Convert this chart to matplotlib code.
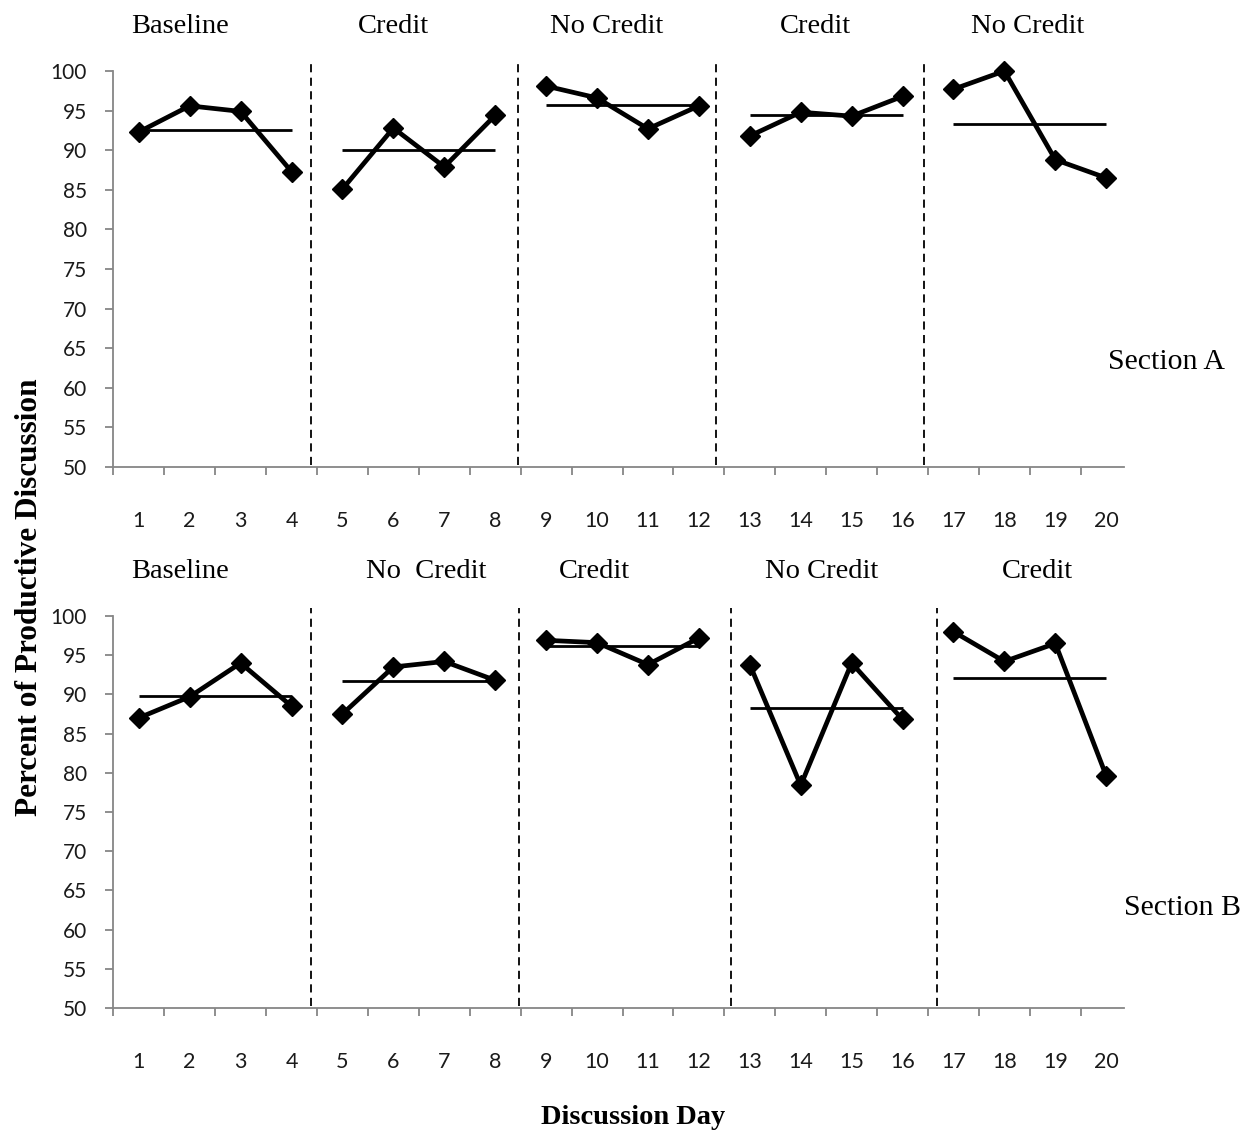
import matplotlib
matplotlib.use("Agg")
import matplotlib.pyplot as plt
import numpy as np

# ---- data ----
days = list(range(1, 21))
section_a = [92.3, 95.6, 94.9, 87.3,
             85.1, 92.8, 87.9, 94.4,
             98.1, 96.6, 92.7, 95.6,
             91.8, 94.8, 94.3, 96.8,
             97.7, 100.0, 88.8, 86.5]
section_b = [87.0, 89.7, 94.0, 88.5,
             87.5, 93.5, 94.2, 91.8,
             96.9, 96.6, 93.8, 97.2,
             93.8, 78.4, 94.0, 86.8,
             98.0, 94.2, 96.5, 79.6]
phases_a = ["Baseline", "Credit", "No Credit", "Credit", "No Credit"]
phases_b = ["Baseline", "No  Credit", "Credit", "No Credit", "Credit"]
section_names = ["Section A", "Section B"]
y_ticks = list(range(50, 101, 5))

# ---- layout (positions / styles) ----
W, H = 1252, 1135
fig = plt.figure(figsize=(W / 100, H / 100), dpi=100)
left_px, right_px = 113.3, 1131.7
panels = [
    dict(top=71, bottom=467, vals=section_a, phases=phases_a,
         dash_x=[4.38, 8.45, 12.33, 16.42],
         phase_x=[1.81, 6.01, 10.19, 14.28, 18.46],
         sec_xy=(1167, 362), name=section_names[0]),
    dict(top=616, bottom=1008, vals=section_b, phases=phases_b,
         dash_x=[4.38, 8.47, 12.63, 16.68],
         phase_x=[1.81, 6.64, 9.94, 14.42, 18.64],
         sec_xy=(1183, 908), name=section_names[1]),
]
gray = "#868686"
serif = "Liberation Serif"
sansnum = "Lato"

for p in panels:
    ax = fig.add_axes([left_px / W, (H - p["bottom"]) / H,
                       (right_px - left_px) / W, (p["bottom"] - p["top"]) / H])
    ax.set_xlim(0.5, 20.5)
    ax.set_ylim(50, 100)
    for s in ["top", "right"]:
        ax.spines[s].set_visible(False)
    for s in ["left", "bottom"]:
        ax.spines[s].set_color(gray)
        ax.spines[s].set_linewidth(1.3)
    ax.spines["bottom"].set_bounds(0.5, 20.35)
    ax.patch.set_alpha(0)

    # y ticks
    ax.set_yticks(y_ticks)
    ax.set_yticklabels([str(v) for v in y_ticks], fontfamily=sansnum, fontsize=15)
    ax.tick_params(axis="y", direction="out", length=6, width=1.3, color=gray,
                   pad=13, labelcolor="#1a1a1a")
    # x ticks: boundaries as major (no labels), centers as minor (labels)
    ax.set_xticks(np.arange(0.5, 20, 1.0))
    ax.set_xticklabels([])
    ax.set_xticks(days, minor=True)
    ax.set_xticklabels([str(d) for d in days], minor=True,
                       fontfamily=sansnum, fontsize=15.5)
    ax.tick_params(axis="x", which="major", direction="out", length=6,
                   width=1.3, color=gray)
    ax.tick_params(axis="x", which="minor", length=0, pad=32,
                   labelcolor="#1a1a1a")

    vals = p["vals"]
    label_y = 100 + 32 * 50 / (p["bottom"] - p["top"])
    for i in range(5):
        xs = days[4 * i:4 * i + 4]
        ys = vals[4 * i:4 * i + 4]
        ax.plot(xs, ys, color="black", lw=3.4, marker="D", ms=10,
                mfc="black", mec="black", clip_on=False, zorder=3)
        m = float(np.mean(ys))
        ax.plot([xs[0], xs[-1]], [m, m], color="black", lw=2.0, zorder=2,
                solid_capstyle="butt")
        ax.text(p["phase_x"][i], label_y, p["phases"][i],
                ha="center", va="bottom", fontfamily=serif, fontsize=20.5,
                clip_on=False)

    for dx in p["dash_x"]:
        ax.plot([dx, dx], [50.2, 101.0], color="black", lw=1.3,
                ls=(0, (4.5, 3.0)), clip_on=False, zorder=1)

    fig.text(p["sec_xy"][0] / W, 1 - p["sec_xy"][1] / H, p["name"],
             ha="center", va="center", fontfamily=serif, fontsize=21.5)

fig.text(30 / W, 1 - 597 / H, "Percent of Productive Discussion",
         rotation=90, ha="center", va="center", fontfamily=serif,
         fontweight="bold", fontsize=22.5)
fig.text(633 / W, 1 - 1118 / H, "Discussion Day", ha="center", va="center",
         fontfamily=serif, fontweight="bold", fontsize=20.5)

fig.savefig("out.png", dpi=100, facecolor="white")
